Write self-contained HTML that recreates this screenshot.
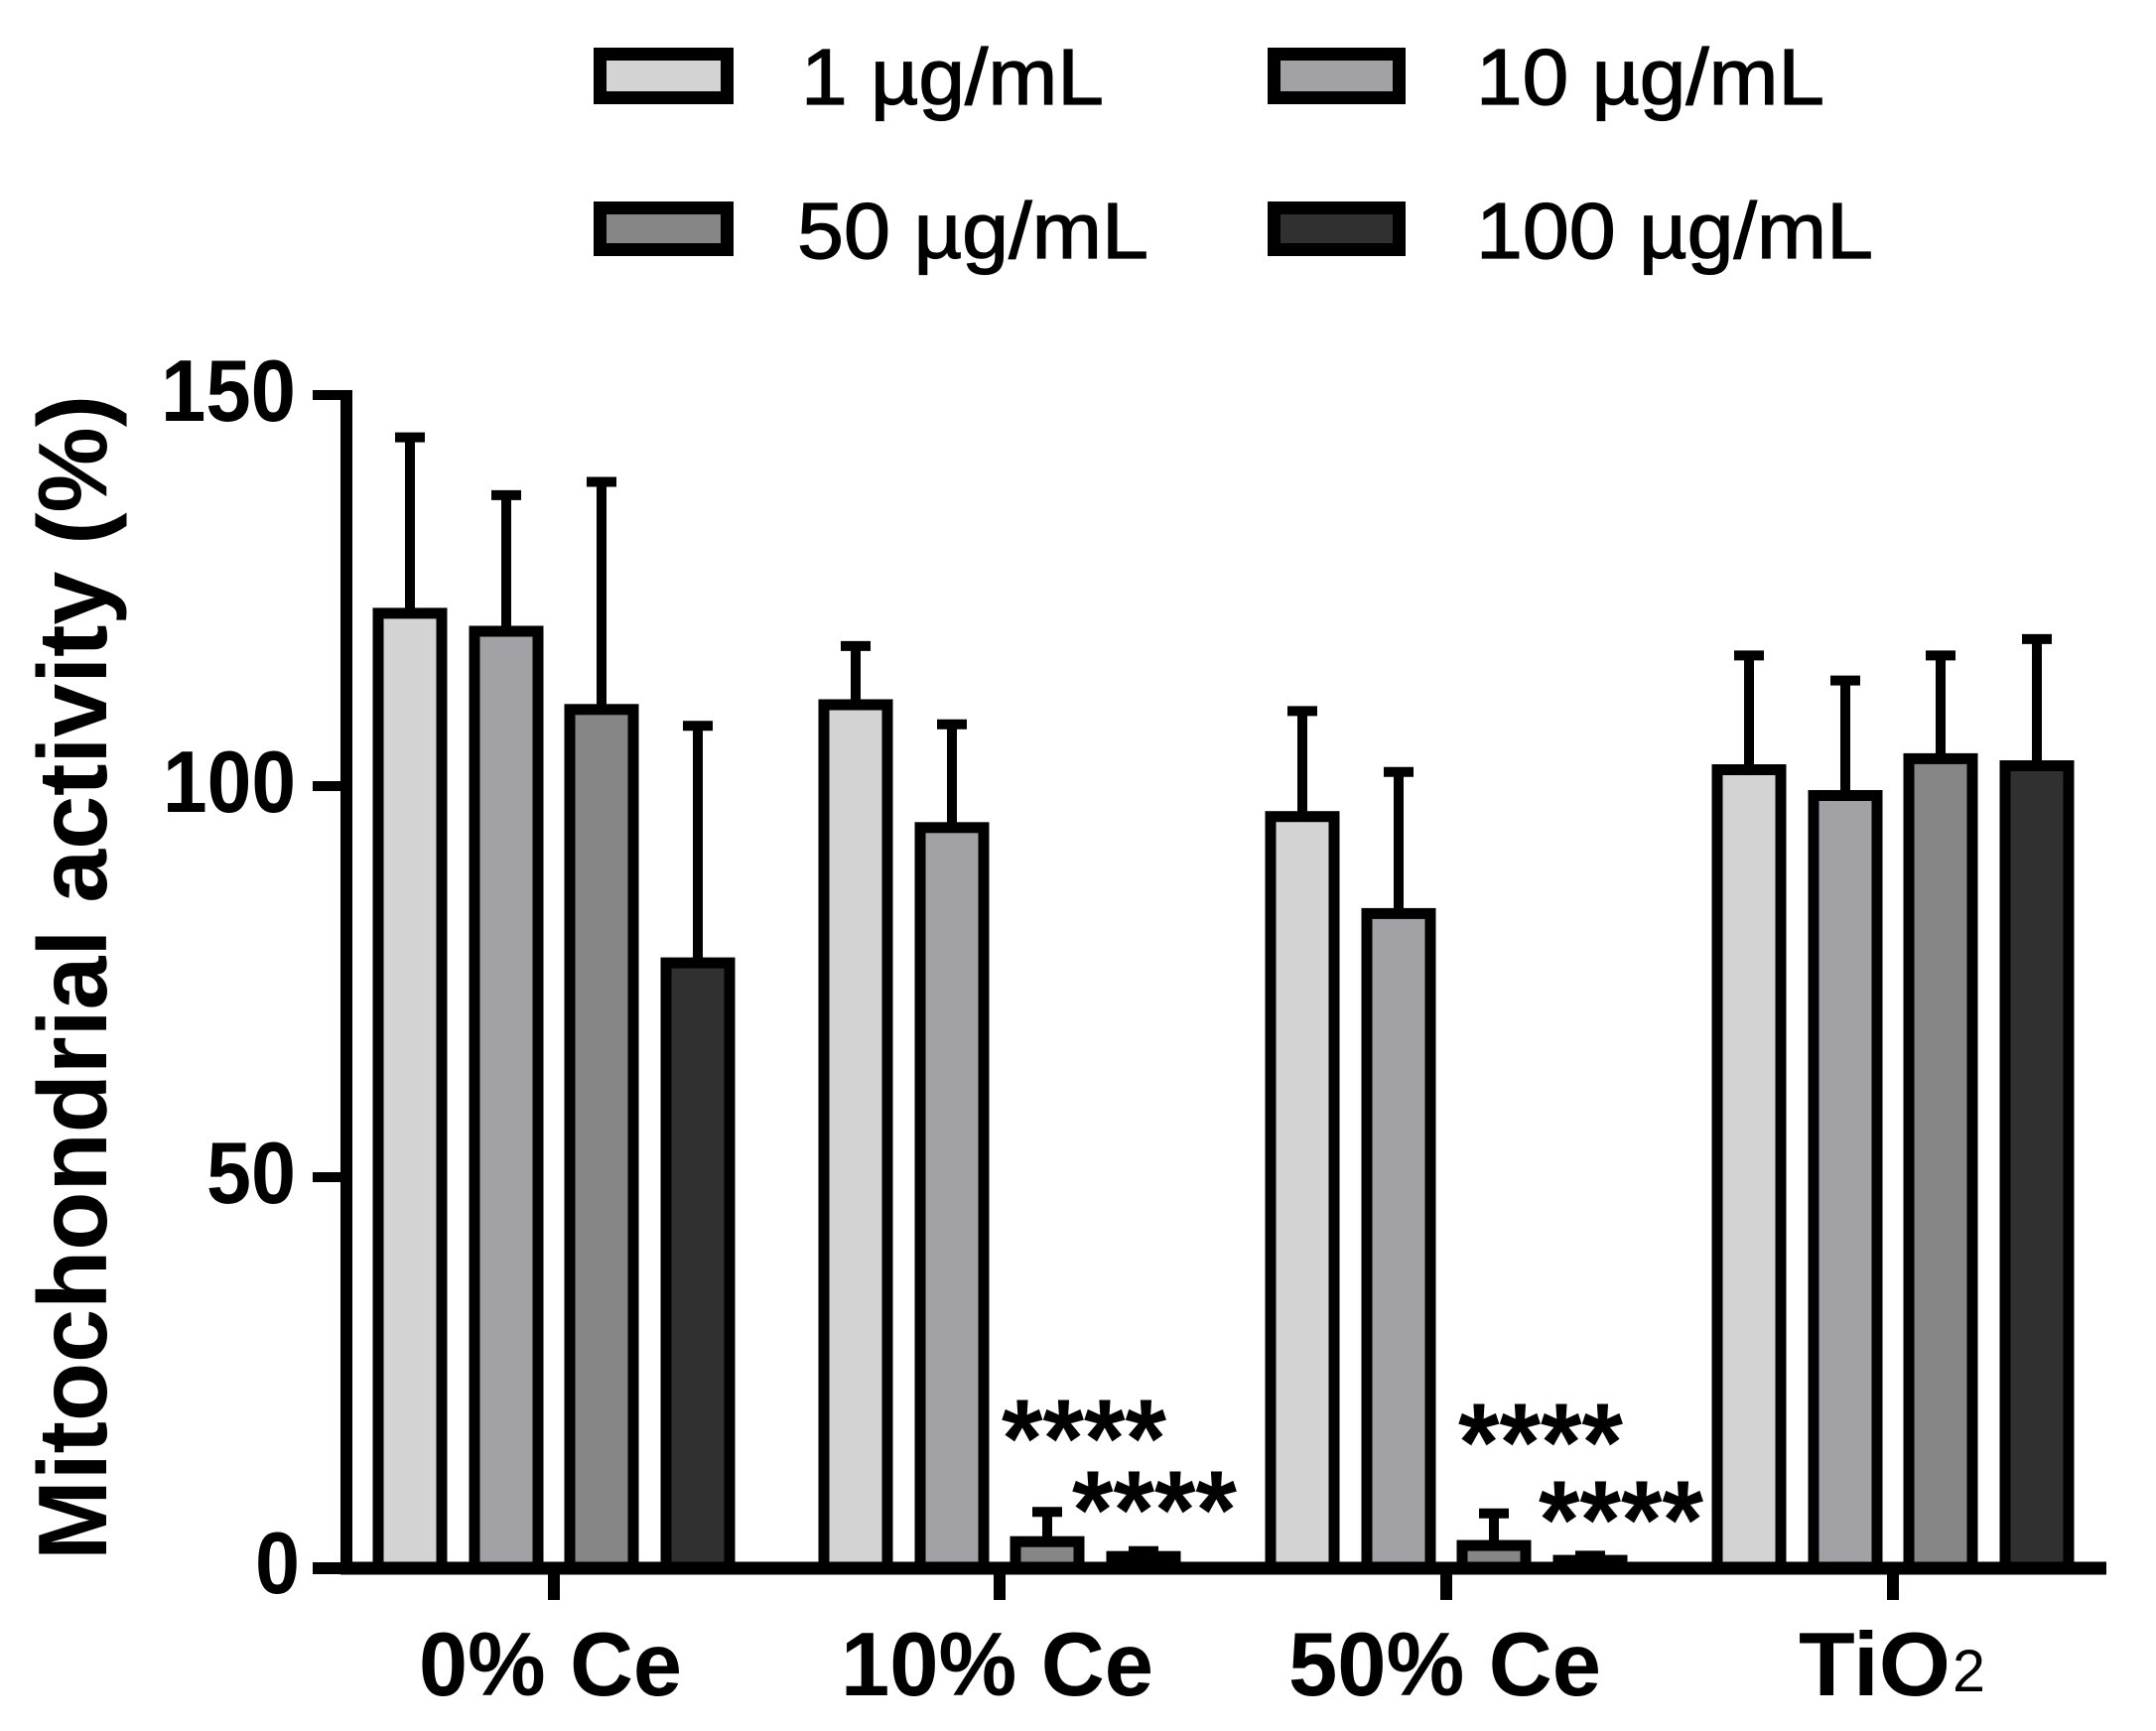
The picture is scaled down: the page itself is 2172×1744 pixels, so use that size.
<!DOCTYPE html>
<html>
<head>
<meta charset="utf-8">
<style>
html,body{margin:0;padding:0;background:#fff;}
svg{display:block;}
text{font-family:"Liberation Sans", Arial, sans-serif;fill:#000;}
</style>
</head>
<body>
<svg width="2172" height="1744" viewBox="0 0 2172 1744" xmlns="http://www.w3.org/2000/svg">
<rect x="0" y="0" width="2172" height="1744" fill="#fff"/>

<!-- Legend -->
<g stroke="#000" stroke-width="13">
  <rect x="604.5" y="54.5" width="128" height="44" fill="#d3d3d3"/>
  <rect x="1283.5" y="54.5" width="126" height="44" fill="#a2a1a6"/>
  <rect x="604.5" y="209.5" width="128" height="42" fill="#868686"/>
  <rect x="1283.5" y="209.5" width="126" height="42" fill="#303030"/>
</g>
<g font-size="80" stroke="#000" stroke-width="1.2">
  <text x="807" y="105" textLength="305" lengthAdjust="spacingAndGlyphs">1 µg/mL</text>
  <text x="1487" y="105" textLength="351" lengthAdjust="spacingAndGlyphs">10 µg/mL</text>
  <text x="803" y="260" textLength="354" lengthAdjust="spacingAndGlyphs">50 µg/mL</text>
  <text x="1487" y="260" textLength="400" lengthAdjust="spacingAndGlyphs">100 µg/mL</text>
</g>

<!-- Error bars -->
<g stroke="#000" stroke-width="10" fill="none">
  <!-- group 1 -->
  <path d="M413 618 V440.6 M398 440.6 H428"/>
  <path d="M510 636 V498.9 M495 498.9 H525"/>
  <path d="M606 714.8 V485.5 M591 485.5 H621"/>
  <path d="M703 970.1 V731.3 M688 731.3 H718"/>
  <!-- group 2 -->
  <path d="M862 710 V650.9 M847 650.9 H877"/>
  <path d="M959 833.8 V729.7 M944 729.7 H974"/>
  <path d="M1055 1553.2 V1523.3 M1040 1523.3 H1070"/>
  <path d="M1152 1568.2 V1562.7 M1137 1562.7 H1167"/>
  <!-- group 3 -->
  <path d="M1312 822.7 V716.4 M1297 716.4 H1327"/>
  <path d="M1409 920.4 V777.8 M1394 777.8 H1424"/>
  <path d="M1505 1557.1 V1524.8 M1490 1524.8 H1520"/>
  <path d="M1602 1572.1 V1567.4 M1587 1567.4 H1617"/>
  <!-- group 4 -->
  <path d="M1762 775.5 V660.4 M1747 660.4 H1777"/>
  <path d="M1859 801.5 V685.6 M1844 685.6 H1874"/>
  <path d="M1955 764.4 V660.4 M1940 660.4 H1970"/>
  <path d="M2052 771.5 V643.9 M2037 643.9 H2067"/>
</g>

<!-- Bars -->
<g stroke="#000" stroke-width="11">
  <!-- group 1 -->
  <rect x="381" y="617.9" width="64" height="962.1" fill="#d3d3d3"/>
  <rect x="478" y="636" width="64" height="944" fill="#a2a1a6"/>
  <rect x="574" y="714.8" width="64" height="865.2" fill="#868686"/>
  <rect x="671" y="970.1" width="64" height="609.9" fill="#303030"/>
  <!-- group 2 -->
  <rect x="830" y="710" width="64" height="870" fill="#d3d3d3"/>
  <rect x="927" y="833.8" width="64" height="746.2" fill="#a2a1a6"/>
  <rect x="1023" y="1553.2" width="64" height="26.8" fill="#868686"/>
  <rect x="1120" y="1568.2" width="64" height="11.8" fill="#303030"/>
  <!-- group 3 -->
  <rect x="1280" y="822.7" width="64" height="757.3" fill="#d3d3d3"/>
  <rect x="1377" y="920.4" width="64" height="659.6" fill="#a2a1a6"/>
  <rect x="1473" y="1557.1" width="64" height="22.9" fill="#868686"/>
  <rect x="1570" y="1572.1" width="64" height="7.9" fill="#303030"/>
  <!-- group 4 -->
  <rect x="1730" y="775.5" width="64" height="804.5" fill="#d3d3d3"/>
  <rect x="1827" y="801.5" width="64" height="778.5" fill="#a2a1a6"/>
  <rect x="1923" y="764.4" width="64" height="815.6" fill="#868686"/>
  <rect x="2020" y="771.5" width="64" height="808.5" fill="#303030"/>
</g>

<!-- Axes -->
<g stroke="#000" fill="none">
  <path d="M349 393 V1586" stroke-width="12"/>
  <path d="M315 398 H349 M315 792 H349 M315 1186 H349" stroke-width="10"/>
  <path d="M315 1580 H343" stroke-width="12"/>
  <path d="M343 1580 H2122" stroke-width="13"/>
  <path d="M558 1580 V1612 M1007 1580 V1612 M1457 1580 V1612 M1907 1580 V1612" stroke-width="12"/>
</g>

<!-- Y tick labels -->
<g font-size="88" font-weight="bold">
  <text x="162" y="424" textLength="136" lengthAdjust="spacingAndGlyphs">150</text>
  <text x="164" y="818" textLength="134" lengthAdjust="spacingAndGlyphs">100</text>
  <text x="208" y="1212" textLength="90" lengthAdjust="spacingAndGlyphs">50</text>
  <text x="257" y="1605" textLength="45" lengthAdjust="spacingAndGlyphs">0</text>
</g>

<!-- Y axis title -->
<text transform="translate(107,1572) rotate(-90)" font-size="98" font-weight="bold" textLength="1174" lengthAdjust="spacingAndGlyphs">Mitochondrial activity (%)</text>

<!-- X labels -->
<g font-size="91" font-weight="bold">
  <text x="422" y="1708" textLength="265" lengthAdjust="spacingAndGlyphs">0% Ce</text>
  <text x="847" y="1708" textLength="315" lengthAdjust="spacingAndGlyphs">10% Ce</text>
  <text x="1298" y="1708" textLength="315" lengthAdjust="spacingAndGlyphs">50% Ce</text>
  <text x="1812" y="1708" textLength="153" lengthAdjust="spacingAndGlyphs">TiO</text>
</g>
<text x="1967" y="1704" font-size="60" textLength="33" lengthAdjust="spacingAndGlyphs">2</text>

<!-- Significance stars -->
<g font-size="112" font-weight="bold">
  <text x="1009" y="1488" textLength="166" lengthAdjust="spacingAndGlyphs">****</text>
  <text x="1080" y="1560" textLength="166" lengthAdjust="spacingAndGlyphs">****</text>
  <text x="1469" y="1492" textLength="166" lengthAdjust="spacingAndGlyphs">****</text>
  <text x="1550" y="1570" textLength="166" lengthAdjust="spacingAndGlyphs">****</text>
</g>
</svg>
</body>
</html>
